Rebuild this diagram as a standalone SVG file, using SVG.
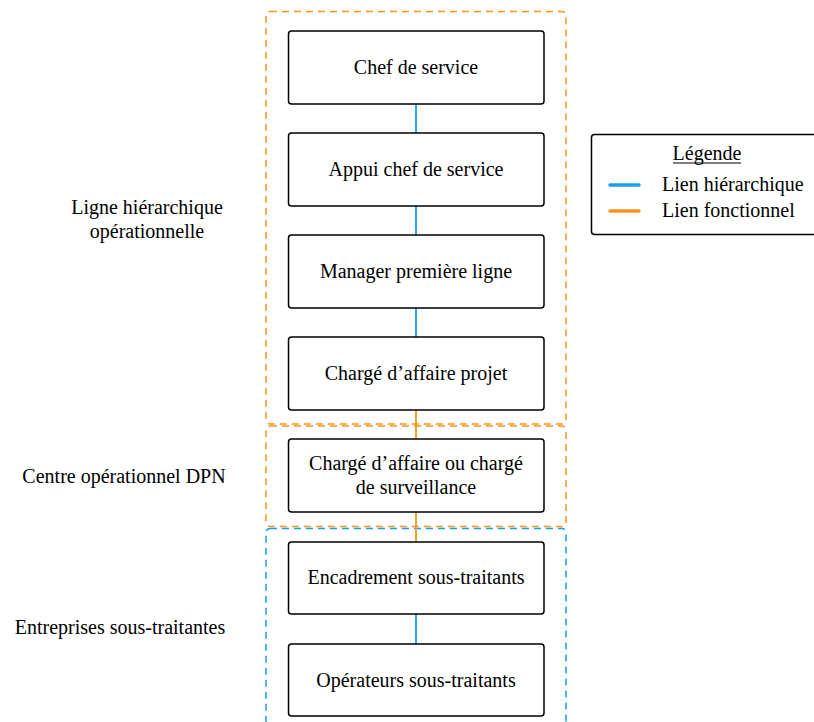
<svg xmlns="http://www.w3.org/2000/svg" width="814" height="722" viewBox="0 0 814 722">
<style>
text{font-family:"Liberation Serif","Times New Roman",serif;font-size:20px;fill:#000}
.box{fill:#fff;stroke:#000;stroke-width:1.5}
.grp{fill:none;stroke-width:1.5;stroke-dasharray:7 5}
.c{text-anchor:middle}
.h{stroke:#1a9cf0;stroke-width:1.8;fill:none}
.f{stroke:#f7941d;stroke-width:1.8;fill:none}
.lg{stroke-width:3.5;stroke-linecap:round}
</style>
<rect width="814" height="722" fill="#fff"/>
<g id="groups">
<rect class="grp" x="266" y="11.5" width="300" height="412.5" rx="4" stroke="#f7941d"/>
<rect class="grp" x="266" y="426" width="300" height="100.5" rx="4" stroke="#f7941d"/>
<rect class="grp" x="266" y="528.5" width="300" height="210" rx="4" stroke="#1a9cf0"/>
</g>
<g id="connectors">
<line class="h" x1="416" y1="104" x2="416" y2="133"/>
<line class="h" x1="416" y1="206" x2="416" y2="235"/>
<line class="h" x1="416" y1="308" x2="416" y2="337"/>
<line class="f" x1="416" y1="410" x2="416" y2="439"/>
<line class="f" x1="416" y1="512" x2="416" y2="542"/>
<line class="h" x1="416" y1="614" x2="416" y2="644"/>
</g>
<g id="n1"><rect class="box" x="288.5" y="31" width="255.5" height="73" rx="3"/><text class="c" x="416" y="74">Chef de service</text></g>
<g id="n2"><rect class="box" x="288.5" y="133" width="255.5" height="73" rx="3"/><text class="c" x="416" y="176">Appui chef de service</text></g>
<g id="n3"><rect class="box" x="288.5" y="235" width="255.5" height="73" rx="3"/><text class="c" x="416" y="278">Manager première ligne</text></g>
<g id="n4"><rect class="box" x="288.5" y="337" width="255.5" height="73" rx="3"/><text class="c" x="416" y="380">Chargé d’affaire projet</text></g>
<g id="n5"><rect class="box" x="288.5" y="439" width="255.5" height="73" rx="3"/><text class="c" x="416" y="470">Chargé d’affaire ou chargé</text><text class="c" x="416" y="494">de surveillance</text></g>
<g id="n6"><rect class="box" x="288.5" y="542" width="255.5" height="72" rx="3"/><text class="c" x="416" y="584">Encadrement sous-traitants</text></g>
<g id="n7"><rect class="box" x="288.5" y="644" width="255.5" height="72" rx="3"/><text class="c" x="416" y="687">Opérateurs sous-traitants</text></g>
<g id="labels">
<text class="c" x="147" y="214">Ligne hiérarchique</text>
<text class="c" x="147" y="238">opérationnelle</text>
<text class="c" x="124" y="483">Centre opérationnel DPN</text>
<text class="c" x="120" y="634">Entreprises sous-traitantes</text>
</g>
<g id="legend">
<rect class="box" x="591.5" y="134.5" width="230" height="100" rx="3"/>
<text class="c" x="707" y="160">Légende</text>
<line x1="673" y1="163" x2="741" y2="163" stroke="#000" stroke-width="1"/>
<line class="h lg" x1="610" y1="185" x2="639" y2="185"/>
<line class="f lg" x1="610" y1="211" x2="639" y2="211"/>
<text x="662" y="191">Lien hiérarchique</text>
<text x="662" y="217">Lien fonctionnel</text>
</g>
</svg>
